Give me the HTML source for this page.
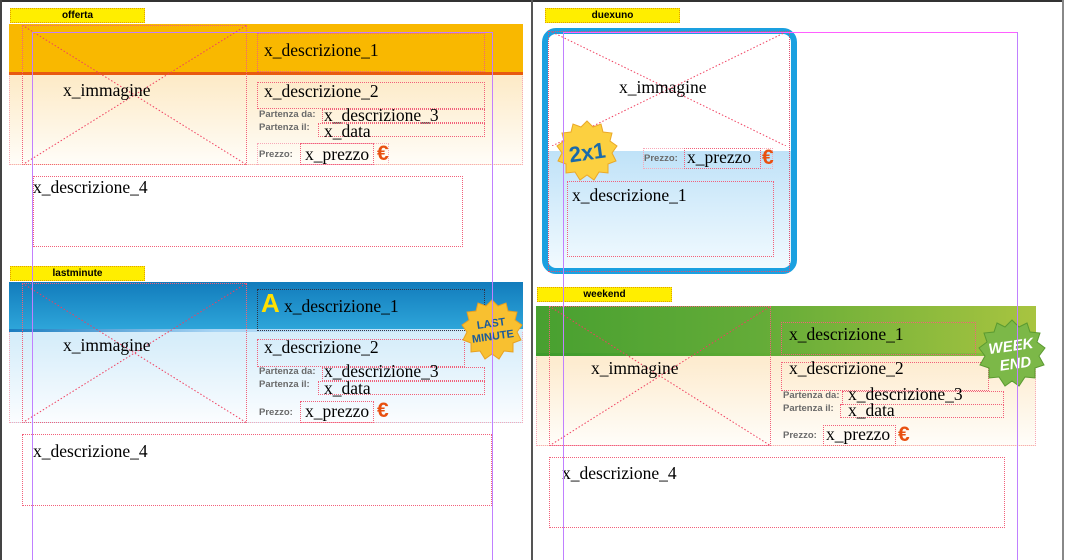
<!DOCTYPE html>
<html><head><meta charset="utf-8"><style>
*{margin:0;padding:0;box-sizing:border-box}
body{width:1067px;height:560px;position:relative;background:#fff;overflow:hidden;font-family:"Liberation Serif",serif}
div,svg,span{position:absolute}
.d{border:1px dotted #f2607a}
.lp{border:1px dotted #f7a8b8}
.t{font-size:17.5px;color:#000;white-space:nowrap;line-height:1}
.s{font-family:"Liberation Sans",sans-serif;font-weight:bold;font-size:9.5px;color:#6a6a6a;white-space:nowrap;line-height:1}
.lab{background:#ffee00;border:1px dotted #e0a000;font-family:"Liberation Sans",sans-serif;font-weight:bold;font-size:10px;text-align:center;line-height:13px;height:15px;width:135px}
.eu{font-family:"Liberation Sans",sans-serif;font-weight:900;color:#e85010;font-size:21px;line-height:1}
.pv{background:#c080ff;width:1px}
.ph{background:#d070ff;height:1px}
</style></head><body>
<!-- frame -->
<div style="left:0;top:0;width:1063px;height:2px;background:#333"></div>
<div style="left:0;top:0;width:2px;height:560px;background:#444"></div>
<div style="left:531px;top:0;width:2px;height:560px;background:#555"></div>
<div style="left:1062px;top:0;width:2px;height:560px;background:#888"></div>

<!-- OFFERTA -->
<div class="lab" style="left:10px;top:8px">offerta</div>
<div class="lp" style="left:9px;top:24px;width:514px;height:141px;background:linear-gradient(#fdebc9 40%,#fffdf8 100%)"></div>
<div style="left:9px;top:24px;width:514px;height:48px;background:#f9b800"></div>
<div style="left:9px;top:72px;width:514px;height:3px;background:#e85a10"></div>
<svg style="left:22px;top:25px" width="225" height="140"><line x1="0" y1="0" x2="225" y2="140" stroke="#f04060" stroke-dasharray="1.5,2"/><line x1="0" y1="140" x2="225" y2="0" stroke="#f04060" stroke-dasharray="1.5,2"/></svg>
<div class="d" style="left:22px;top:25px;width:225px;height:140px"></div>
<div class="t" style="left:63px;top:82px">x_immagine</div>
<div class="d" style="left:257px;top:33px;width:228px;height:39px"></div>
<div class="t" style="left:264px;top:42px">x_descrizione_1</div>
<div class="d" style="left:257px;top:82px;width:228px;height:27px"></div>
<div class="t" style="left:264px;top:83px">x_descrizione_2</div>
<div class="s" style="left:259px;top:110px">Partenza da:</div>
<div class="d" style="left:322px;top:109px;width:163px;height:14px"></div>
<div class="t" style="left:324px;top:107px">x_descrizione_3</div>
<div class="s" style="left:259px;top:123px">Partenza il:</div>
<div class="d" style="left:318px;top:123px;width:167px;height:14px"></div>
<div class="t" style="left:324px;top:123px">x_data</div>
<div class="d" style="left:257px;top:143px;width:132px;height:22px;border-color:#f7a8b8"></div>
<div class="s" style="left:259px;top:150px">Prezzo:</div>
<div class="d" style="left:300px;top:143px;width:74px;height:22px"></div>
<div class="t" style="left:305px;top:146px">x_prezzo</div>
<div class="eu" style="left:377px;top:143px">€</div>
<div class="d" style="left:33px;top:176px;width:430px;height:71px"></div>
<div class="t" style="left:33px;top:179px">x_descrizione_4</div>

<!-- LASTMINUTE -->
<div class="lab" style="left:10px;top:266px">lastminute</div>
<div class="lp" style="left:9px;top:282px;width:514px;height:141px;background:linear-gradient(#d6edfa 40%,#fbfdff 100%)"></div>
<div style="left:9px;top:282px;width:514px;height:48px;background:linear-gradient(#127cbc,#2ea6da)"></div>
<div style="left:9px;top:329px;width:514px;height:3px;background:linear-gradient(90deg,#1a7cc0,#a8d4f4 40%,#d8eefa)"></div>
<svg style="left:22px;top:283px" width="225" height="140"><line x1="0" y1="0" x2="225" y2="140" stroke="#f04060" stroke-dasharray="1.5,2"/><line x1="0" y1="140" x2="225" y2="0" stroke="#f04060" stroke-dasharray="1.5,2"/></svg>
<div class="d" style="left:22px;top:283px;width:225px;height:140px"></div>
<div class="t" style="left:63px;top:337px">x_immagine</div>
<div style="left:257px;top:289px;width:228px;height:42px;border:1px dotted #334"></div>
<div style="left:261px;top:290px;font-family:'Liberation Sans',sans-serif;font-weight:bold;font-size:26px;color:#ffe000;line-height:1">A</div>
<div class="t" style="left:284px;top:298px">x_descrizione_1</div>
<div class="d" style="left:257px;top:339px;width:208px;height:28px"></div>
<div class="t" style="left:264px;top:339px">x_descrizione_2</div>
<div class="s" style="left:259px;top:367px">Partenza da:</div>
<div class="d" style="left:322px;top:367px;width:163px;height:14px"></div>
<div class="t" style="left:324px;top:363px">x_descrizione_3</div>
<div class="s" style="left:259px;top:380px">Partenza il:</div>
<div class="d" style="left:318px;top:381px;width:167px;height:14px"></div>
<div class="t" style="left:324px;top:380px">x_data</div>
<div class="s" style="left:259px;top:408px">Prezzo:</div>
<div class="d" style="left:300px;top:401px;width:74px;height:22px"></div>
<div class="t" style="left:305px;top:403px">x_prezzo</div>
<div class="eu" style="left:377px;top:400px">€</div>
<svg style="left:460px;top:298px" width="64" height="64" viewBox="-32 -32 64 64"><polygon points="0,-30 6,-24 14,-27 16,-19 25,-18 23,-10 30,-5 25,2 29,10 21,13 21,22 12,21 7,29 0,24 -7,29 -12,21 -21,22 -21,13 -29,10 -25,2 -30,-5 -23,-10 -25,-18 -16,-19 -14,-27 -6,-24" fill="#f8c030" stroke="#e8a020"/><text x="0" y="-3" text-anchor="middle" font-family="Liberation Sans" font-weight="bold" font-size="11" fill="#1a5a9a" transform="rotate(-8)">LAST</text><text x="0" y="10" text-anchor="middle" font-family="Liberation Sans" font-weight="bold" font-size="11" fill="#1a5a9a" transform="rotate(-8)">MINUTE</text></svg>
<div class="d" style="left:22px;top:434px;width:470px;height:72px"></div>
<div class="t" style="left:33px;top:443px">x_descrizione_4</div>

<!-- DUEXUNO -->
<div class="lab" style="left:545px;top:8px">duexuno</div>
<div style="left:542px;top:28px;width:255px;height:246px;border:6px solid #1aa0e0;border-radius:14px;overflow:hidden;background:linear-gradient(#fff 0,#fff 117px,#bfe2f8 117px,#f4fbff 240px)"></div>
<svg style="left:552px;top:32px" width="234" height="114"><line x1="0" y1="0" x2="234" y2="114" stroke="#f04060" stroke-dasharray="1.5,2"/><line x1="0" y1="114" x2="234" y2="0" stroke="#f04060" stroke-dasharray="1.5,2"/></svg>
<div class="d" style="left:548px;top:31px;width:242px;height:241px;border-color:#e05070"></div>
<div class="t" style="left:619px;top:79px">x_immagine</div>
<div class="s" style="left:644px;top:154px">Prezzo:</div>
<div class="d" style="left:643px;top:148px;width:130px;height:21px;border-color:#f7a8b8"></div>
<div class="d" style="left:684px;top:148px;width:77px;height:21px"></div>
<div class="t" style="left:687px;top:149px">x_prezzo</div>
<div class="eu" style="left:762px;top:147px">€</div>
<div class="d" style="left:567px;top:181px;width:207px;height:76px"></div>
<div class="t" style="left:572px;top:187px">x_descrizione_1</div>
<svg style="left:555px;top:119px" width="64" height="64" viewBox="-32 -32 64 64"><polygon points="0,-30 6,-24 14,-27 16,-19 25,-18 23,-10 30,-5 25,2 29,10 21,13 21,22 12,21 7,29 0,24 -7,29 -12,21 -21,22 -21,13 -29,10 -25,2 -30,-5 -23,-10 -25,-18 -16,-19 -14,-27 -6,-24" fill="#fcd040" stroke="#eaa828"/><text x="0" y="9" text-anchor="middle" font-family="Liberation Sans" font-weight="bold" font-size="22" fill="#1a6aaa" transform="rotate(-8)">2x1</text></svg>

<!-- WEEKEND -->
<div class="lab" style="left:537px;top:287px">weekend</div>
<div class="lp" style="left:536px;top:306px;width:500px;height:140px;background:linear-gradient(#fdecd0 40%,#fffdf9 100%)"></div>
<div style="left:536px;top:306px;width:500px;height:48px;background:linear-gradient(90deg,#48a030,#64ac38 45%,#a8c440)"></div>
<div style="left:536px;top:353px;width:500px;height:3px;background:linear-gradient(90deg,#3c9a2c,#8cc040)"></div>
<svg style="left:549px;top:306px" width="222" height="140"><line x1="0" y1="0" x2="222" y2="140" stroke="#f04060" stroke-dasharray="1.5,2"/><line x1="0" y1="140" x2="222" y2="0" stroke="#f04060" stroke-dasharray="1.5,2"/></svg>
<div class="d" style="left:549px;top:306px;width:222px;height:140px"></div>
<div class="t" style="left:591px;top:360px">x_immagine</div>
<div class="d" style="left:781px;top:322px;width:195px;height:33px"></div>
<div class="t" style="left:789px;top:326px">x_descrizione_1</div>
<div class="d" style="left:781px;top:362px;width:208px;height:29px"></div>
<div class="t" style="left:789px;top:360px">x_descrizione_2</div>
<div class="s" style="left:783px;top:391px">Partenza da:</div>
<div class="d" style="left:842px;top:391px;width:162px;height:14px"></div>
<div class="t" style="left:848px;top:386px">x_descrizione_3</div>
<div class="s" style="left:783px;top:404px">Partenza il:</div>
<div class="d" style="left:840px;top:404px;width:164px;height:14px"></div>
<div class="t" style="left:848px;top:402px">x_data</div>
<div class="s" style="left:783px;top:431px">Prezzo:</div>
<div class="d" style="left:823px;top:425px;width:73px;height:21px"></div>
<div class="t" style="left:826px;top:426px">x_prezzo</div>
<div class="eu" style="left:898px;top:424px">€</div>
<svg style="left:978px;top:318px" width="68" height="72" viewBox="-34 -36 68 72"><polygon points="0,-34 7,-27 15,-31 18,-22 28,-21 25,-12 33,-6 27,2 32,11 23,14 23,24 13,23 7,32 0,27 -7,32 -13,23 -23,24 -23,14 -32,11 -27,2 -33,-6 -25,-12 -28,-21 -18,-22 -15,-31 -7,-27" fill="#7cb848" stroke="#5a9a30"/><text x="0" y="-3" text-anchor="middle" font-family="Liberation Sans" font-weight="bold" font-style="italic" font-size="15" fill="#fff" transform="rotate(-8)">WEEK</text><text x="2" y="15" text-anchor="middle" font-family="Liberation Sans" font-weight="bold" font-style="italic" font-size="15" fill="#fff" transform="rotate(-8)">END</text></svg>
<div class="d" style="left:549px;top:457px;width:456px;height:71px"></div>
<div class="t" style="left:562px;top:465px">x_descrizione_4</div>

<!-- purple guides -->
<div class="ph" style="left:32px;top:32px;width:461px;background:#c080ff"></div>
<div class="pv" style="left:32px;top:32px;height:528px"></div>
<div class="pv" style="left:492px;top:32px;height:528px"></div>
<div class="ph" style="left:563px;top:32px;width:455px;background:#ff60ff"></div>
<div class="pv" style="left:563px;top:32px;height:528px"></div>
<div class="pv" style="left:1017px;top:32px;height:528px"></div>
</body></html>
